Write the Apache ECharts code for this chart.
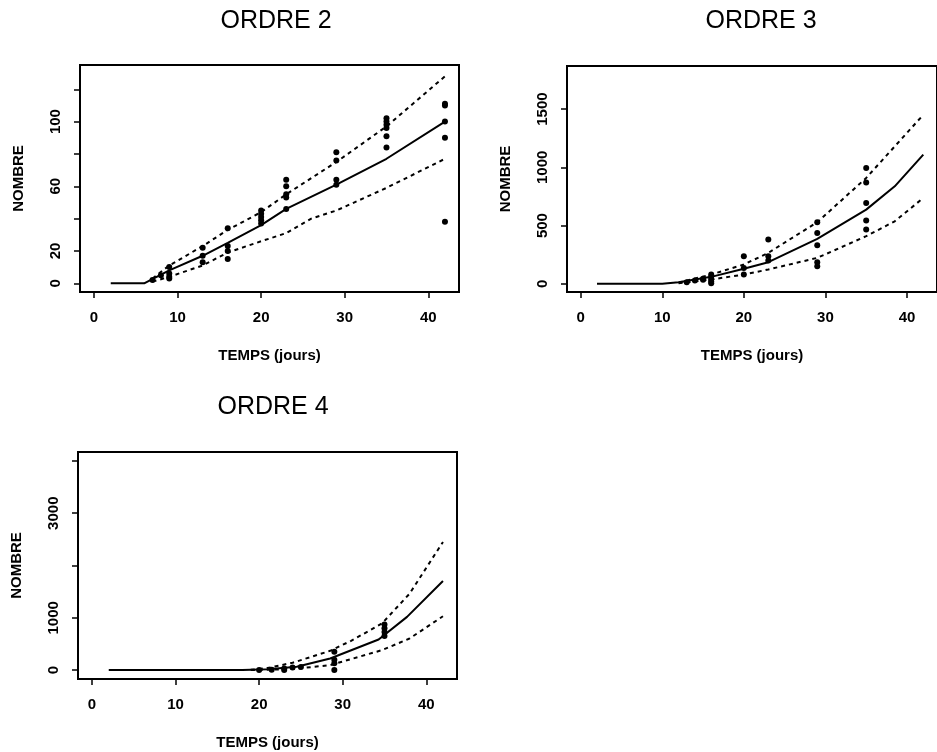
<!DOCTYPE html>
<html>
<head>
<meta charset="utf-8">
<script src="https://cdn.jsdelivr.net/npm/echarts@6/dist/echarts.min.js"></script>
<style>
html,body{margin:0;padding:0;background:#fff;}
#c{width:937px;height:752px;}
</style>
</head>
<body>
<div id="c"></div>
<script>
// ---------- DATA ----------
const panelTitles = ['ORDRE 2', 'ORDRE 3', 'ORDRE 4'];
const xTicks = [0, 10, 20, 30, 40];

// ORDRE 2
const o2PointDays   = [7, 8, 9, 9, 9, 9, 13, 13, 13, 16, 16, 16, 16, 20, 20, 20, 20, 20, 23, 23, 23, 23, 23, 29, 29, 29, 29, 35, 35, 35, 35, 35, 35, 42, 42, 42, 42, 42];
const o2PointCounts = [2, 5, 10, 6, 4, 3, 22, 17, 13, 34, 23, 20, 15, 45, 43, 41, 39, 37, 64, 60, 55, 53, 46, 81, 76, 64, 61, 102, 100, 98, 96, 91, 84, 111, 110, 100, 90, 38];
const o2FitDays   = [2, 6, 9, 13, 16, 20, 23, 29, 35, 42];
const o2Fit       = [0, 0, 8, 17, 25, 36, 46, 61, 77, 100];
const o2UpperDays = [7, 9, 13, 16, 20, 23, 29, 35, 42];
const o2Upper     = [3, 11, 23, 33, 44, 55, 75, 97, 128];
const o2LowerDays = [7, 9, 13, 16, 20, 23, 26, 29, 35, 42];
const o2Lower     = [1, 4, 11, 19, 26, 31, 40, 45, 59, 77];
const o2YTicks  = [0, 20, 40, 60, 80, 100, 120];
const o2YLabels = [0, 20, 60, 100];

// ORDRE 3
const o3PointDays   = [13, 14, 15, 15, 16, 16, 16, 16, 16, 20, 20, 20, 23, 23, 23, 29, 29, 29, 29, 29, 35, 35, 35, 35, 35];
const o3PointCounts = [14, 29, 43, 35, 80, 60, 40, 20, 5, 237, 137, 80, 380, 237, 200, 529, 437, 331, 186, 151, 994, 871, 694, 543, 466];
const o3FitDays   = [2, 10, 12, 16, 20, 23, 29, 35, 38.5, 42];
const o3Fit       = [0, 0, 14, 60, 129, 186, 386, 637, 837, 1109];
const o3UpperDays = [12, 16, 20, 23, 29, 35, 38.5, 42];
const o3Upper     = [10, 80, 166, 266, 529, 909, 1180, 1451];
const o3LowerDays = [12, 16, 20, 23, 29, 35, 38.5, 42];
const o3Lower     = [5, 37, 80, 123, 223, 409, 537, 737];
const o3YTicks  = [0, 500, 1000, 1500];
const o3YLabels = [0, 500, 1000, 1500];

// ORDRE 4
const o4PointDays   = [20, 21.5, 23, 23, 24, 25, 29, 29, 29, 29, 35, 35, 35, 35];
const o4PointCounts = [0, 5, 0, 30, 50, 60, 350, 200, 130, 0, 870, 800, 730, 650];
const o4FitDays   = [2, 18, 21, 24.5, 28.5, 34.3, 37.7, 42];
const o4Fit       = [0, 0, 15, 64, 223, 586, 1018, 1705];
const o4UpperDays = [19, 21, 24, 28.5, 31, 34.7, 38, 42];
const o4Upper     = [5, 40, 140, 369, 560, 891, 1460, 2450];
const o4LowerDays = [19, 24, 28.5, 34.7, 38, 42];
const o4Lower     = [0, 20, 95, 382, 604, 1030];
const o4YTicks  = [0, 1000, 2000, 3000, 4000];
const o4YLabels = [0, 1000, 3000];

// ---------- BUILD ----------
const zip = (a, b) => a.map((v, i) => [v, b[i]]);
const FONT = 'Liberation Sans, Arial, Helvetica, sans-serif';
const plain = v => String(v);

const panels = [
  { grid: {left: 80, top: 65, width: 379, height: 227}, ymin: -5.4, ymax: 135,
    yTicks: o2YTicks, yLabels: o2YLabels,
    pts: zip(o2PointDays, o2PointCounts), fit: zip(o2FitDays, o2Fit),
    up: zip(o2UpperDays, o2Upper), lo: zip(o2LowerDays, o2Lower),
    title: {x: 271, y: 4} },
  { grid: {left: 567, top: 66, width: 376, height: 226}, ymin: -70, ymax: 1870,
    yTicks: o3YTicks, yLabels: o3YLabels,
    pts: zip(o3PointDays, o3PointCounts), fit: zip(o3FitDays, o3Fit),
    up: zip(o3UpperDays, o3Upper), lo: zip(o3LowerDays, o3Lower),
    title: {x: 756, y: 4} },
  { grid: {left: 78, top: 452, width: 379, height: 227}, ymin: -170, ymax: 4170,
    yTicks: o4YTicks, yLabels: o4YLabels,
    pts: zip(o4PointDays, o4PointCounts), fit: zip(o4FitDays, o4Fit),
    up: zip(o4UpperDays, o4Upper), lo: zip(o4LowerDays, o4Lower),
    title: {x: 268, y: 390} }
];

const option = {
  backgroundColor: '#fff',
  animation: false,
  title: [], grid: [], xAxis: [], yAxis: [], series: []
};

panels.forEach((p, i) => {
  option.title.push({
    text: panelTitles[i], left: p.title.x, top: p.title.y, textAlign: 'center',
    textStyle: {fontFamily: FONT, fontSize: 25, fontWeight: 'normal', color: '#000'}
  });
  option.grid.push(Object.assign({show: true, borderColor: '#000', borderWidth: 2, backgroundColor: 'transparent', containLabel: false}, p.grid));
  option.xAxis.push({
    type: 'value', gridIndex: i, min: -1.68, max: 43.68,
    name: 'TEMPS (jours)', nameLocation: 'middle', nameGap: 56,
    nameTextStyle: {fontFamily: FONT, fontSize: 15, fontWeight: 'bold', color: '#000'},
    axisLine: {show: false, onZero: false},
    axisTick: {show: true, inside: false, length: 6, customValues: xTicks, lineStyle: {color: '#000', width: 1.5}},
    axisLabel: {show: true, margin: 18, customValues: xTicks, formatter: plain, fontFamily: FONT, fontSize: 15, fontWeight: 'bold', color: '#000'},
    splitLine: {show: false}
  });
  option.yAxis.push({
    type: 'value', gridIndex: i, min: p.ymin, max: p.ymax,
    name: 'NOMBRE', nameLocation: 'middle', nameGap: 54, nameRotate: 90,
    nameTextStyle: {fontFamily: FONT, fontSize: 15, fontWeight: 'bold', color: '#000'},
    axisLine: {show: false, onZero: false},
    axisTick: {show: true, inside: false, length: 6, customValues: p.yTicks, lineStyle: {color: '#000', width: 1.5}},
    axisLabel: {show: true, rotate: 90, margin: 17, customValues: p.yLabels, formatter: plain, fontFamily: FONT, fontSize: 15, fontWeight: 'bold', color: '#000'},
    splitLine: {show: false}
  });
  const common = {xAxisIndex: i, yAxisIndex: i, showSymbol: false, silent: true, z: 2};
  option.series.push(Object.assign({type: 'line', data: p.fit, lineStyle: {color: '#000', width: 2, type: 'solid'}}, common));
  option.series.push(Object.assign({type: 'line', data: p.up, lineStyle: {color: '#000', width: 2, type: [4, 4]}}, common));
  option.series.push(Object.assign({type: 'line', data: p.lo, lineStyle: {color: '#000', width: 2, type: [4, 4]}}, common));
  option.series.push({type: 'scatter', xAxisIndex: i, yAxisIndex: i, data: p.pts, symbol: 'circle', symbolSize: 6, itemStyle: {color: '#000', opacity: 1}, silent: true, z: 3});
});

const chart = echarts.init(document.getElementById('c'), null, {renderer: 'canvas'});
chart.setOption(option);
</script>
</body>
</html>
